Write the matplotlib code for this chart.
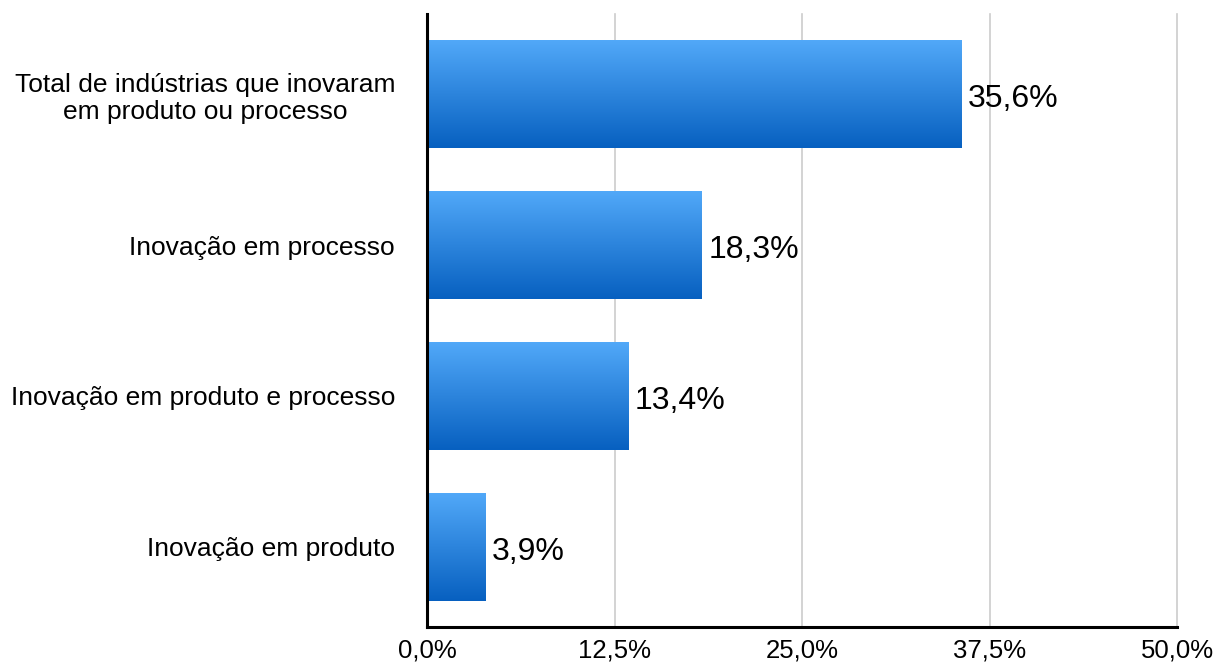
import numpy as np
import matplotlib
matplotlib.use("Agg")
import matplotlib.pyplot as plt
from matplotlib.colors import LinearSegmentedColormap

plt.rcParams['font.family'] = ['Liberation Sans', 'DejaVu Sans']

# --- dados ---
categorias = [
    "Total de indústrias que inovaram\nem produto ou processo",
    "Inovação em processo",
    "Inovação em produto e processo",
    "Inovação em produto",
]
valores = [35.6, 18.3, 13.4, 3.9]
ticks_x = [0, 12.5, 25, 37.5, 50]

fig = plt.figure(figsize=(12.18, 6.62), dpi=100)
ax = fig.add_axes([427 / 1218, 1 - 627 / 662, 750 / 1218, 613 / 662])

y = np.arange(len(categorias))
bars = ax.barh(y, valores, height=0.72, color='none', edgecolor='none', zorder=3)

# gradiente vertical em cada barra (claro em cima, escuro embaixo)
grad = LinearSegmentedColormap.from_list('azul', ['#52A9F9', '#0760C0'])
gimg = np.linspace(0, 1, 256).reshape(-1, 1)
for b in bars:
    x0, y0 = b.get_x(), b.get_y()
    w, h = b.get_width(), b.get_height()
    im = ax.imshow(gimg, cmap=grad, aspect='auto', zorder=3,
                   extent=[x0, x0 + w, y0 + h, y0], origin='upper')
    im.set_clip_path(b)

for yi, v in zip(y, valores):
    ax.text(v + 0.45, yi + 0.035, f"{v:.1f}%".replace('.', ','), va='center', ha='left',
            fontsize=23, color='black', zorder=4)

ax.set_xlim(0, 50)
ax.set_ylim(3.53, -0.53)
ax.set_xticks(ticks_x)
ax.set_xticklabels([f"{t:.1f}%".replace('.', ',') for t in ticks_x], fontsize=18.5)
ax.set_yticks(y)
ax.set_yticklabels(categorias, fontsize=19, multialignment='center', linespacing=1.2)
ax.tick_params(axis='both', length=0)
ax.tick_params(axis='x', pad=8)
ax.tick_params(axis='y', pad=23)

ax.grid(axis='x', color='#cccccc', linewidth=1.2, zorder=0)
for gl in ax.get_xgridlines():
    gl.set_clip_on(False)
ax.set_axisbelow(True)
for s in ['top', 'right']:
    ax.spines[s].set_visible(False)
for s in ['left', 'bottom']:
    ax.spines[s].set_linewidth(2.2)
    ax.spines[s].set_color('black')
    ax.spines[s].set_zorder(5)

fig.savefig('out.png', dpi=100)
